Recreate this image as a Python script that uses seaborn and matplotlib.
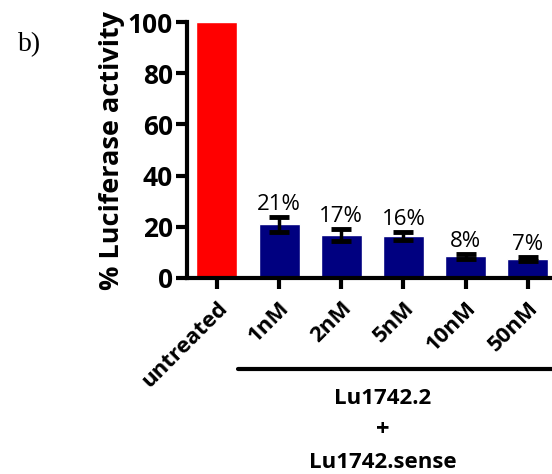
import matplotlib
matplotlib.use("Agg")
import matplotlib.pyplot as plt
import matplotlib.transforms as mtransforms
import seaborn as sns
import pandas as pd

# data
conditions = ["untreated", "1nM", "2nM", "5nM", "10nM", "50nM"]
activity = [100, 21, 16.8, 16.4, 8.5, 7.3]
errors = [0, 3.0, 2.3, 1.5, 0.9, 0.8]
pct_labels = ["", "21%", "17%", "16%", "8%", "7%"]
bar_colors = ["#FF0000", "#000080", "#000080", "#000080", "#000080", "#000080"]

sns.set_style("ticks")
plt.rcParams["font.family"] = ["Open Sans", "DejaVu Sans"]
plt.rcParams["text.color"] = "black"
plt.rcParams["axes.labelcolor"] = "black"

df = pd.DataFrame({"cond": conditions, "val": activity})

fig = plt.figure(figsize=(5.52, 4.74), dpi=100)
ax = fig.add_axes([187 / 552, 1 - 278 / 474, 1 - 187 / 552, 256 / 474])

sns.barplot(data=df, x="cond", y="val", hue="cond", palette=bar_colors,
            saturation=1, width=0.66, legend=False, ax=ax)

# error bars (SD), upper + lower
ax.errorbar(range(1, len(conditions)), activity[1:], yerr=errors[1:],
            fmt="none", ecolor="black", elinewidth=2.5, capsize=7, capthick=3.5, zorder=3)

for i, lab in enumerate(pct_labels):
    if lab:
        ax.text(i, activity[i] + errors[i] + 0.8, lab, ha="center", va="bottom",
                fontsize=16, color="black")

ax.set_ylim(0, 100)
ax.set_xlim(-0.48, 5.39)
ax.set_yticks([0, 20, 40, 60, 80, 100])
ax.set_xlabel("")
ax.set_ylabel("% Luciferase activity", fontsize=19.5, fontweight="bold", labelpad=2)

for s in ["top", "right"]:
    ax.spines[s].set_visible(False)
for s in ["left", "bottom"]:
    ax.spines[s].set_linewidth(3)
    ax.spines[s].set_color("black")

ax.tick_params(axis="both", width=3, length=8, direction="out", colors="black")
ax.tick_params(axis="y", labelsize=19, pad=2)
ax.tick_params(axis="x", pad=6)
for t in ax.get_yticklabels():
    t.set_fontweight("bold")
ax.set_xticks(range(len(conditions)))
ax.set_xticklabels(conditions, rotation=45, ha="right", rotation_mode="anchor",
                   fontsize=16, fontweight="bold")

# group bracket below the concentrations
trans = mtransforms.blended_transform_factory(ax.transData, ax.transAxes)
ax.plot([0.34, 5.45], [-0.355, -0.355], color="black", lw=3, transform=trans,
        clip_on=False)
ax.text(2.67, -0.47, "Lu1742.2", transform=trans, ha="center", va="center",
        fontsize=16, fontweight="bold")
ax.text(2.67, -0.595, "+", transform=trans, ha="center", va="center",
        fontsize=17, fontweight="bold")
ax.text(2.67, -0.72, "Lu1742.sense", transform=trans, ha="center", va="center",
        fontsize=16, fontweight="bold")

fig.text(18 / 552, 1 - 45 / 474, "b)", fontsize=20, family="Liberation Serif",
         ha="left", va="center")

fig.savefig("out.png", dpi=100)
